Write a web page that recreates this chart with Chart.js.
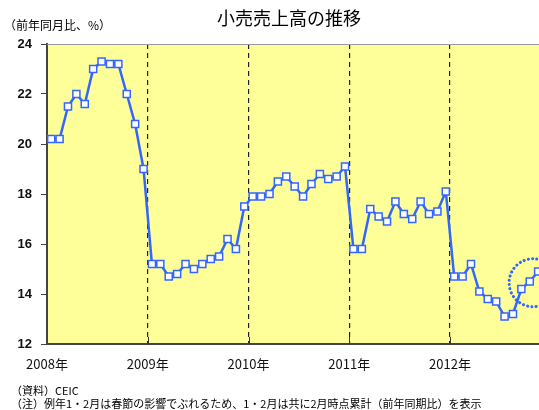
<!DOCTYPE html>
<html>
<head>
<meta charset="utf-8">
<script src="https://cdn.jsdelivr.net/npm/chart.js@4/dist/chart.umd.min.js"></script>
<style>
  body { margin: 0; background: #fff; }
  #wrap { position: relative; width: 539px; height: 410px; overflow: hidden; }
</style>
</head>
<body>
<div id="wrap"><canvas id="salesChart"></canvas></div>
<script>
// 小売売上高（前年同月比、%）2008年1月～2012年11月
const years = [2008, 2009, 2010, 2011, 2012];
const yearLabels = ['2008年', '2009年', '2010年', '2011年', '2012年'];
const sales2008 = [20.2, 20.2, 21.5, 22.0, 21.6, 23.0, 23.3, 23.2, 23.2, 22.0, 20.8, 19.0];
const sales2009 = [15.2, 15.2, 14.7, 14.8, 15.2, 15.0, 15.2, 15.4, 15.5, 16.2, 15.8, 17.5];
const sales2010 = [17.9, 17.9, 18.0, 18.5, 18.7, 18.3, 17.9, 18.4, 18.8, 18.6, 18.7, 19.1];
const sales2011 = [15.8, 15.8, 17.4, 17.1, 16.9, 17.7, 17.2, 17.0, 17.7, 17.2, 17.3, 18.1];
const sales2012 = [14.7, 14.7, 15.2, 14.1, 13.8, 13.7, 13.1, 13.2, 14.2, 14.5, 14.9];
const yTicks = [12, 14, 16, 18, 20, 22, 24];

const sales = [].concat(sales2008, sales2009, sales2010, sales2011, sales2012);
// 月の中央にプロット
const points = sales.map((v, i) => ({ x: i + 0.5, y: v }));

const blue = '#3366ff';
const jpFont = '"Noto Sans CJK JP", "Noto Sans", sans-serif';

// 背景・タイトル・注記など
const decorPlugin = {
    id: 'decor',
    beforeDraw(chart) {
        const { ctx, chartArea: a } = chart;
        ctx.save();
        ctx.fillStyle = '#ffff99';
        ctx.fillRect(a.left, a.top, a.right - a.left, a.bottom - a.top);
        ctx.restore();
    },
    afterDatasetsDraw(chart) {
        const { ctx, chartArea: a, scales } = chart;
        const x = scales.x, y = scales.y;
        ctx.save();
        // 上の枠線
        ctx.strokeStyle = '#999';
        ctx.lineWidth = 1;
        ctx.beginPath();
        ctx.moveTo(a.left, a.top + 0.5);
        ctx.lineTo(a.right, a.top + 0.5);
        ctx.stroke();
        // 年の目盛（内側）
        ctx.strokeStyle = '#333';
        ctx.lineWidth = 1;
        [12, 24, 36, 48].forEach(v => {
            const px = Math.round(x.getPixelForValue(v)) + 0.5;
            ctx.beginPath();
            ctx.moveTo(px, a.bottom);
            ctx.lineTo(px, a.bottom - 7);
            ctx.stroke();
        });
        // 点線の丸（直近の回復）
        const cx = x.getPixelForValue(57.9);
        const cy = y.getPixelForValue(14.45);
        ctx.strokeStyle = blue;
        ctx.lineWidth = 3;
        ctx.lineCap = 'round';
        ctx.setLineDash([0.1, 4.2]);
        ctx.beginPath();
        ctx.arc(cx, cy, 24, 0, Math.PI * 2);
        ctx.stroke();
        ctx.restore();
    },
    afterDraw(chart) {
        const { ctx } = chart;
        ctx.save();
        ctx.fillStyle = '#000';
        ctx.textBaseline = 'middle';
        ctx.textAlign = 'center';
        ctx.font = '18px ' + jpFont;
        ctx.fillText('小売売上高の推移', 289, 18);
        ctx.textAlign = 'left';
        ctx.font = '12px ' + jpFont;
        ctx.fillText('（前年同月比、%）', 4, 25);
        ctx.font = '11px ' + jpFont;
        ctx.fillText('（資料）CEIC', 11, 391);
        ctx.fillText('（注）例年1・2月は春節の影響でぶれるため、1・2月は共に2月時点累計（前年同期比）を表示', 11, 404);
        ctx.restore();
    }
};

new Chart(document.getElementById('salesChart'), {
    type: 'line',
    data: {
        datasets: [{
            label: '小売売上高',
            data: points,
            borderColor: blue,
            borderWidth: 2.5,
            pointStyle: 'rect',
            pointRadius: 5,
            pointBorderWidth: 1.5,
            pointBorderColor: blue,
            pointBackgroundColor: '#fff',
            tension: 0
        }]
    },
    options: {
        responsive: true,
        maintainAspectRatio: false,
        animation: false,
        layout: { autoPadding: false, padding: { top: 44, right: 0, bottom: 36, left: 0 } },
        plugins: {
            legend: { display: false },
            tooltip: { enabled: false }
        },
        scales: {
            x: {
                type: 'linear',
                min: 0,
                max: 58.6,
                afterBuildTicks: scale => {
                    scale.ticks = years.map((yr, i) => ({ value: i * 12 }));
                },
                afterFit: scale => { scale.height = 30; },
                ticks: {
                    autoSkip: false,
                    maxRotation: 0,
                    padding: 12,
                    color: '#111',
                    font: { family: jpFont, size: 13 },
                    callback: (v) => yearLabels[Math.round(v / 12)] || ''
                },
                grid: {
                    drawTicks: false,
                    lineWidth: 1.2,
                    color: ctx => (ctx.tick && ctx.tick.value > 0) ? '#222' : 'rgba(0,0,0,0)'
                },
                border: { color: '#444', width: 2, dash: [5, 4] }
            },
            y: {
                min: 12,
                max: 24,
                afterBuildTicks: scale => {
                    scale.ticks = yTicks.map(v => ({ value: v }));
                },
                afterFit: scale => { scale.width = 47; },
                ticks: {
                    padding: 9,
                    color: '#111',
                    font: { family: '"Liberation Sans", Arial, sans-serif', size: 13, weight: 'bold' }
                },
                grid: {
                    drawOnChartArea: false,
                    tickLength: 6,
                    color: '#444'
                },
                border: { color: '#444', width: 2 }
            }
        }
    },
    plugins: [decorPlugin]
});
</script>
</body>
</html>
